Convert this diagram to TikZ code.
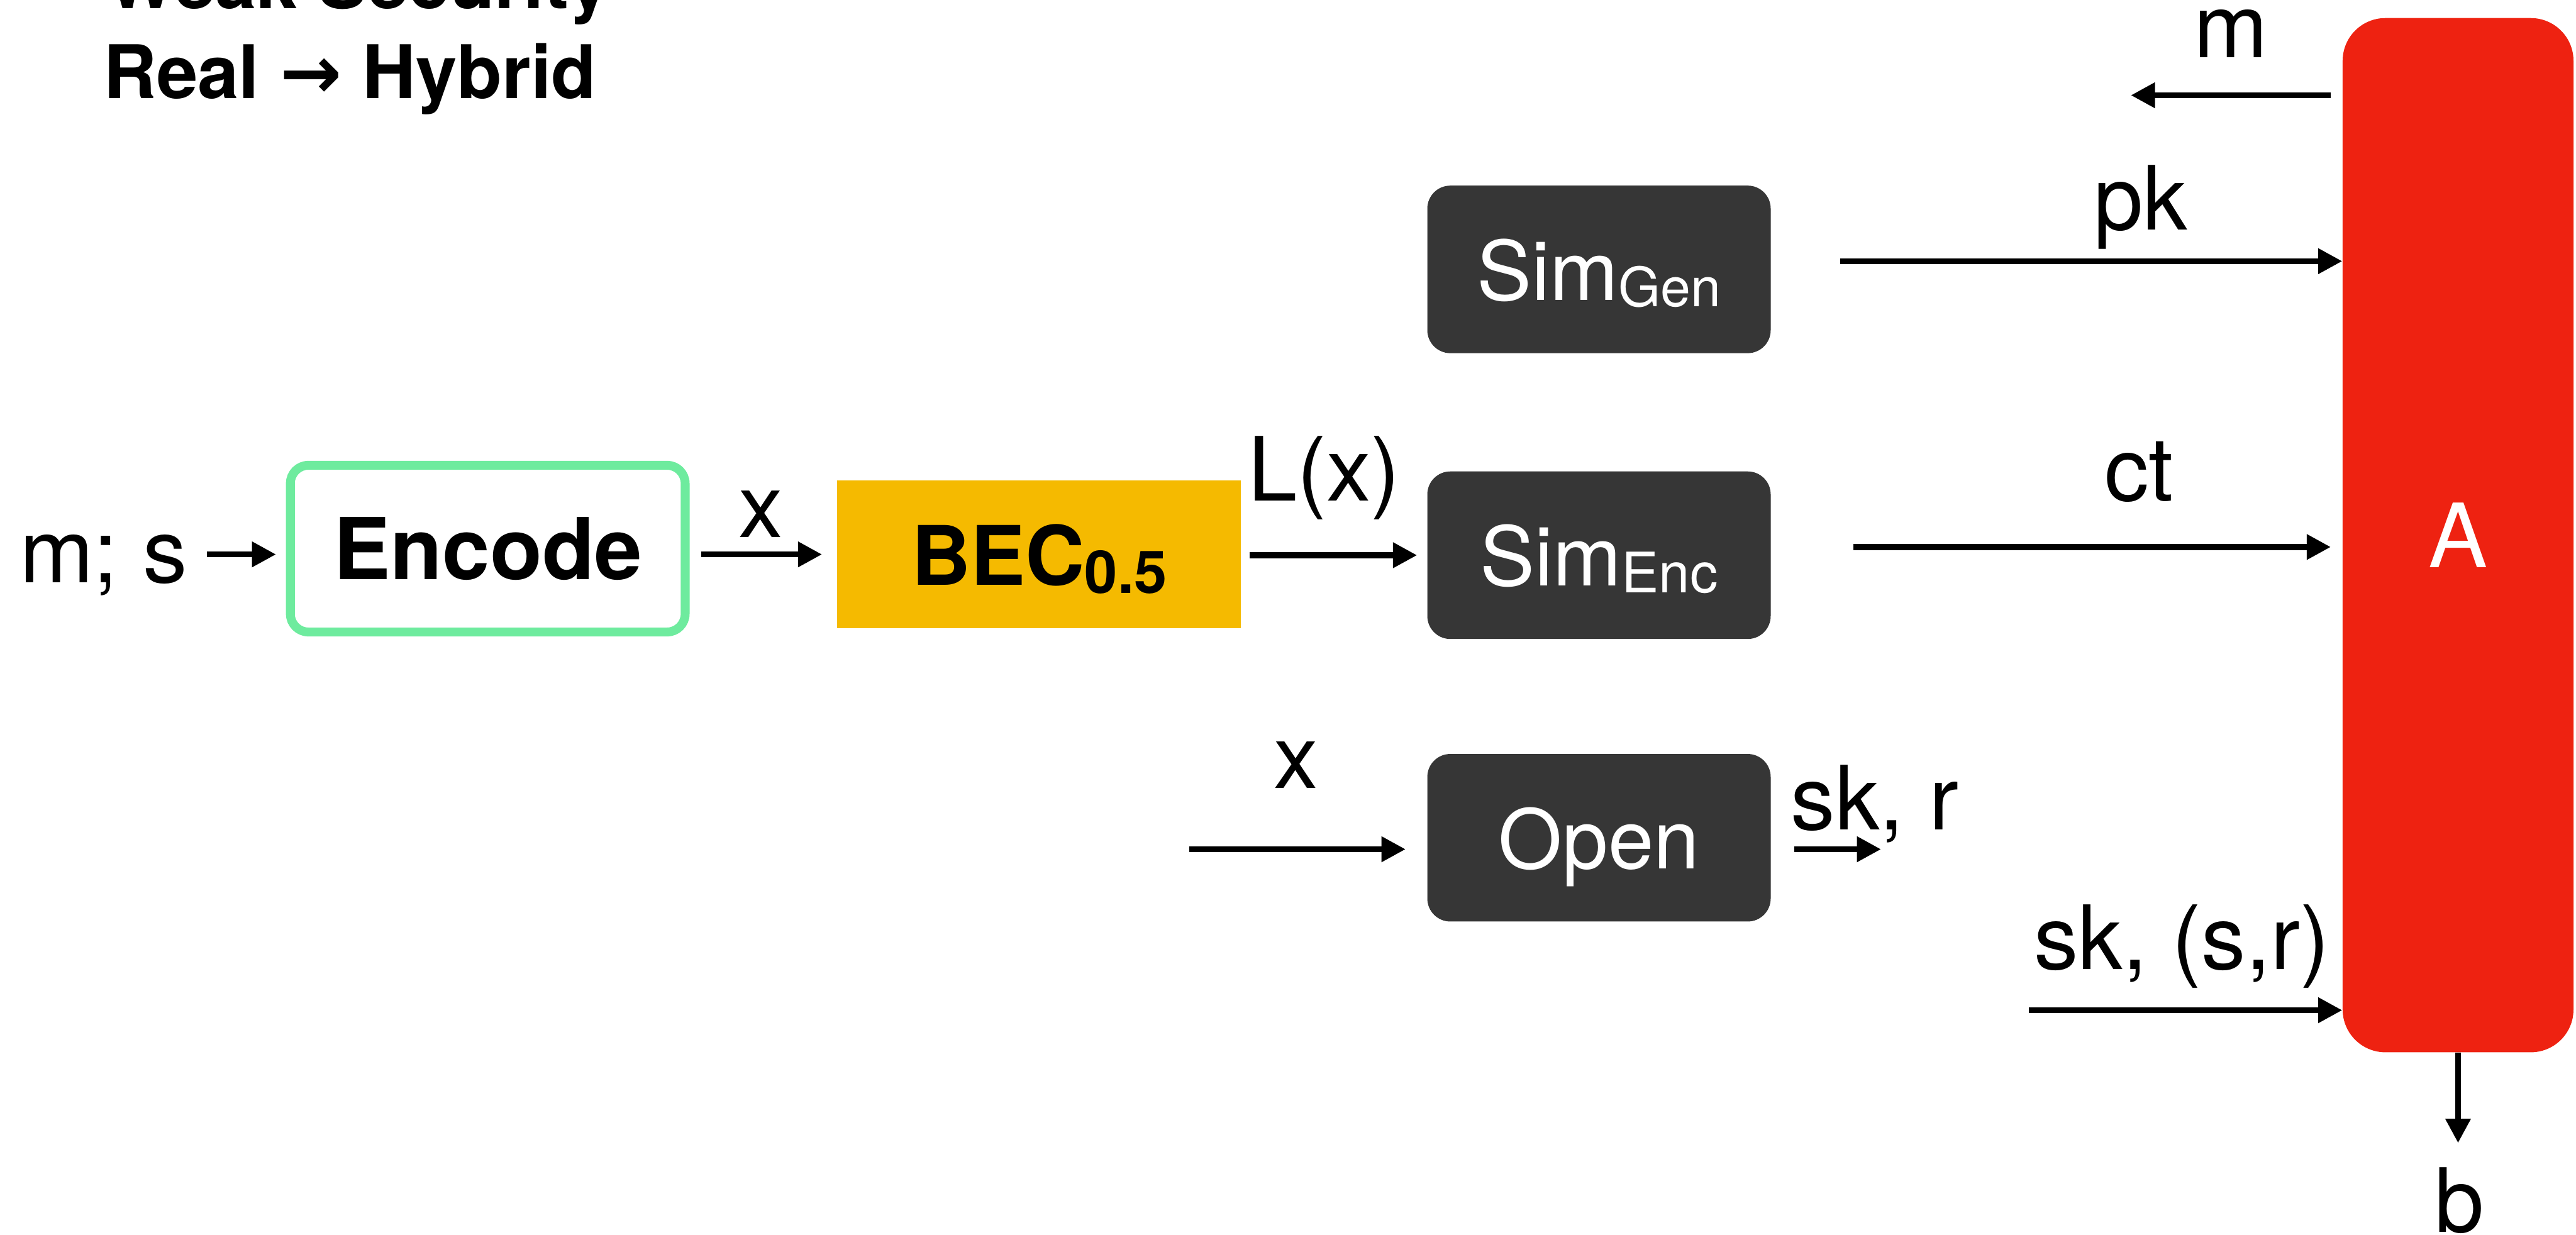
\documentclass[tikz,border=0pt]{standalone}
\usepackage{fontspec}
\setmainfont{TeX Gyre Heros}
\newfontfamily\arrowfont{DejaVu Sans}
\usetikzlibrary{arrows.meta,calc}
\definecolor{encgreen}{HTML}{6EEB9E}
\definecolor{becyellow}{HTML}{F5BA00}
\definecolor{simdark}{HTML}{363636}
\definecolor{advred}{HTML}{EE2211}
\tikzset{
  arr/.style={line width=3.7pt,-{Triangle[length=14.7pt,width=14.7pt]}},
  thinarr/.style={line width=3.3pt,-{Triangle[length=14.7pt,width=14.7pt]}},
  lbl/.style={inner sep=0pt,anchor=base,font=\fontsize{54}{60}\selectfont},
  ttl/.style={inner sep=0pt,anchor=base,font=\bfseries\fontsize{45}{50}\selectfont},
  simbox/.style={fill=simdark,rounded corners=14pt,minimum width=209pt,minimum height=102pt,
    inner sep=0pt,text=white,text depth=0pt,font=\fontsize{50}{60}\selectfont},
  encbox/.style={draw=encgreen,line width=5.4pt,fill=white,rounded corners=11pt,
    minimum width=240.3pt,minimum height=101.5pt,inner sep=0pt,font=\bfseries\fontsize{52}{60}\selectfont},
  becbox/.style={fill=becyellow,minimum width=245.8pt,minimum height=90pt,inner sep=0pt,
    text depth=0pt,font=\bfseries\fontsize{50}{60}\selectfont},
  advbox/.style={fill=advred,rounded corners=26pt,minimum width=140.5pt,minimum height=629.6pt,
    inner sep=0pt,text=white,font=\fontsize{54}{60}\selectfont},
}
\begin{document}
\begin{tikzpicture}[x=1pt,y=-1pt]
\useasboundingbox (0,0) rectangle (1568,751.5);

% titles
\node[ttl] (t1) at (218,5) {Weak Security};
\node[ttl] (t2) at (213,60) {Real {\arrowfont\bfseries →} Hybrid};

% boxes
\node[encbox] (Enc) at (296.9,334) {Encode};
\node[becbox] (BEC) at (632.5,337.5) {BEC\raisebox{-5pt}{\fontsize{36}{40}\selectfont 0.5}};
\node[simbox] (SimGen) at (973.3,164) {Sim\raisebox{-4pt}{\fontsize{33}{40}\selectfont Gen}};
\node[simbox] (SimEnc) at (973.3,338) {Sim\raisebox{-4pt}{\fontsize{34}{40}\selectfont Enc}};
\node[simbox] (Open) at (973.3,510) {Open};
\node[advbox] (A) at (1496.2,325.8) {A};

% free ends
\coordinate (msEnd) at (126,337.5);
\coordinate (xIn) at (724,517);
\coordinate (skrEnd) at (1145,517);
\coordinate (skIn) at (1235,615);
\coordinate (mEnd) at (1297,58);
\coordinate (bEnd) at ($(A.south)+(0,55)$);

% connectors
\draw[arr] (msEnd) -- ($(Enc.west)+(-6,3.5)$);
\draw[arr] ($(Enc.east)+(7,3.5)$) -- ($(BEC.west)+(-9,0)$);
\draw[arr] ($(BEC.east)+(5,0.5)$) -- ($(SimEnc.west)+(-6,0)$);
\draw[arr] (xIn) -- (xIn -| {$(Open.west)+(-13,0)$});
\draw[arr] ($(Open.east)+(14,7)$) -- (skrEnd);
\coordinate (pkS) at ($(SimGen.east)+(42,-5)$);
\draw[arr] (pkS) -- (pkS -| A.west);
\coordinate (ctS) at ($(SimEnc.east)+(50,-5)$);
\draw[arr] (ctS) -- ($(ctS -| A.west)+(-7,0)$);
\draw[arr] (skIn) -- (skIn -| A.west);
\draw[arr] ($(A.west |- mEnd)+(-7,0)$) -- (mEnd);
\draw[thinarr] (A.south) -- (bEnd);

% labels
\node[lbl] (lms) at (63,354.5) {m; s};
\node[lbl] (lx1) at (463,327) {x};
\node[lbl] (lLx) at (806,305) {L(x)};
\node[lbl] (lx2) at (789,480) {x};
\node[lbl,anchor=base west] (lskr) at (1090,505) {sk, r};
\node[lbl] (lpk) at (1303,140) {pk};
\node[lbl] (lct) at (1302,305) {ct};
\node[lbl] (lsksr) at (1328,590) {sk, (s,r)};
\node[lbl] (lm) at (1358,35) {m};
\node[lbl] (lb) at (1497,750) {b};
\end{tikzpicture}
\end{document}
